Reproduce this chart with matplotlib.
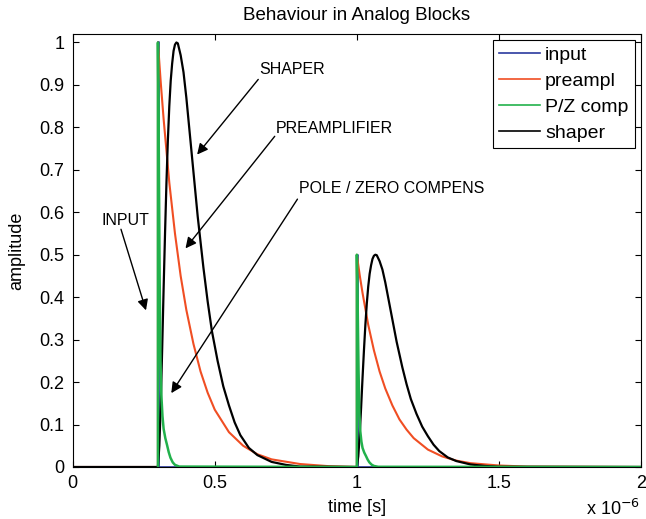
import numpy as np
import matplotlib
matplotlib.use('Agg')
import matplotlib.pyplot as plt
from matplotlib.ticker import FormatStrFormatter

plt.rcParams['font.family'] = ['Liberation Sans', 'DejaVu Sans']

# time in microseconds (axis shows x 10^-6)
input_t = [0.0, 0.300, 0.300, 0.303, 0.303, 1.000, 1.000, 1.003, 1.003, 2.0]
input_v = [0.0, 0.0, 1.0, 1.0, 0.0, 0.0, 0.5, 0.5, 0.0, 0.0]

preampl_t = [0.0, 0.30,
             0.30, 0.31, 0.32, 0.34, 0.36, 0.38, 0.40, 0.425, 0.45, 0.475, 0.50,
             0.55, 0.60, 0.65, 0.70, 0.80, 0.90,
             1.00,
             1.00, 1.01, 1.02, 1.04, 1.06, 1.08, 1.10, 1.125, 1.15, 1.175, 1.20,
             1.25, 1.30, 1.35, 1.40, 1.50, 1.60,
             2.0]
preampl_v = [0.0, 0.0,
             1.0, 0.905, 0.82, 0.67, 0.55, 0.45, 0.37, 0.29, 0.225, 0.175, 0.135,
             0.082, 0.05, 0.03, 0.018, 0.007, 0.002,
             0.0,
             0.5, 0.452, 0.41, 0.335, 0.275, 0.225, 0.185, 0.145, 0.112, 0.088, 0.068,
             0.041, 0.025, 0.015, 0.009, 0.0035, 0.001,
             0.0]

pz_t = [0.300, 0.300, 0.303, 0.306, 0.309, 0.312, 0.316, 0.320, 0.326, 0.332,
        0.338, 0.344, 0.352, 0.360, 0.375,
        1.000, 1.000, 1.003, 1.006, 1.009, 1.012, 1.016, 1.020, 1.026, 1.032,
        1.038, 1.044, 1.052, 1.060, 1.075,
        2.0]
pz_v = [0.0, 1.0, 0.75, 0.45, 0.25, 0.17, 0.12, 0.09, 0.068, 0.052,
        0.035, 0.022, 0.011, 0.005, 0.001,
        0.0, 0.5, 0.375, 0.225, 0.125, 0.085, 0.06, 0.045, 0.034, 0.026,
        0.0175, 0.011, 0.0055, 0.0025, 0.0005,
        0.0]

shaper_t = [0.0,
            0.300, 0.305, 0.310, 0.315, 0.320, 0.325, 0.330, 0.335, 0.340, 0.345,
            0.350, 0.355, 0.360, 0.365, 0.370, 0.380, 0.390, 0.400, 0.410, 0.420,
            0.430, 0.440, 0.450, 0.460, 0.475, 0.490, 0.510, 0.530, 0.550, 0.570,
            0.590, 0.620, 0.650, 0.700, 0.750, 0.800,
            1.000, 1.005, 1.010, 1.015, 1.020, 1.025, 1.030, 1.035, 1.040, 1.045,
            1.050, 1.055, 1.060, 1.065, 1.070, 1.080, 1.090, 1.100, 1.110, 1.120,
            1.130, 1.140, 1.150, 1.160, 1.175, 1.190, 1.210, 1.230, 1.250, 1.270,
            1.290, 1.320, 1.350, 1.400, 1.450, 1.500,
            2.0]
shaper_v = [0.0,
            0.0, 0.05, 0.15, 0.28, 0.42, 0.55, 0.67, 0.77, 0.85, 0.91,
            0.95, 0.98, 0.995, 1.0, 0.998, 0.97, 0.93, 0.87, 0.80, 0.73,
            0.66, 0.59, 0.53, 0.47, 0.39, 0.32, 0.25, 0.19, 0.145, 0.105,
            0.075, 0.045, 0.028, 0.012, 0.005, 0.001,
            0.0, 0.025, 0.075, 0.14, 0.21, 0.275, 0.335, 0.385, 0.425, 0.455,
            0.475, 0.49, 0.4975, 0.5, 0.499, 0.485, 0.465, 0.435, 0.40, 0.365,
            0.33, 0.295, 0.265, 0.235, 0.195, 0.16, 0.125, 0.095, 0.0725, 0.0525,
            0.0375, 0.0225, 0.014, 0.006, 0.0025, 0.0005,
            0.0]

labels = ['input', 'preampl', 'P/Z comp', 'shaper']
colors = ['#2b3a9e', '#f04e23', '#22b14c', 'k']

# annotation text, text position, arrow start, arrow tip
notes = ['SHAPER', 'PREAMPLIFIER', 'POLE / ZERO COMPENS', 'INPUT']
note_xy = [(0.658, 0.936), (0.715, 0.798), (0.796, 0.656), (0.102, 0.581)]
arrow_from = [(0.653, 0.913), (0.711, 0.779), (0.791, 0.631), (0.170, 0.560)]
arrow_to = [(0.438, 0.736), (0.397, 0.515), (0.347, 0.174), (0.258, 0.369)]

fig = plt.figure(figsize=(6.46, 5.19), dpi=100)
ax = fig.add_axes([0.1125, 0.1002, 0.8798, 0.8343])

l1, = ax.plot(input_t, input_v, color=colors[0], lw=1.2)
l2, = ax.plot(preampl_t, preampl_v, color=colors[1], lw=1.5)
l4, = ax.plot(shaper_t, shaper_v, color=colors[3], lw=1.6)
l3, = ax.plot(pz_t, pz_v, color=colors[2], lw=1.8)

for s, txy, a0, a1 in zip(notes, note_xy, arrow_from, arrow_to):
    ax.text(txy[0], txy[1], s, fontsize=11.5, ha='left', va='center')
    ax.annotate('', xy=a1, xytext=a0,
                arrowprops=dict(arrowstyle='-|>', color='k', lw=1,
                                mutation_scale=16, shrinkA=0, shrinkB=0))

ax.set_xlim(0, 2)
ax.set_ylim(0, 1.02)
ax.set_xticks([0, 0.5, 1, 1.5, 2])
ax.set_yticks(np.arange(0, 1.01, 0.1))
ax.xaxis.set_major_formatter(FormatStrFormatter('%g'))
ax.yaxis.set_major_formatter(FormatStrFormatter('%g'))
ax.tick_params(direction='in', top=True, right=True, length=4, width=0.8,
               labelsize=13, pad=6)
for sp in ax.spines.values():
    sp.set_linewidth(0.8)

ax.set_title('Behaviour in Analog Blocks', fontsize=13.5, pad=10)
ax.set_xlabel('time [s]', fontsize=13, labelpad=5)
ax.set_ylabel('amplitude', fontsize=13, labelpad=10)
fig.text(640 / 646, 1 - 515 / 519, 'x 10$^{-6}$', fontsize=13,
         ha='right', va='baseline')

leg = ax.legend([l1, l2, l3, l4], labels, loc='upper right', fontsize=14,
                fancybox=False, edgecolor='k', framealpha=1,
                borderaxespad=0.3, handlelength=2.1, handletextpad=0.25,
                labelspacing=0.42, borderpad=0.35)
leg.get_frame().set_linewidth(0.8)
for h in leg.get_lines():
    h.set_linewidth(1.2)

fig.savefig('out.png', dpi=100)
